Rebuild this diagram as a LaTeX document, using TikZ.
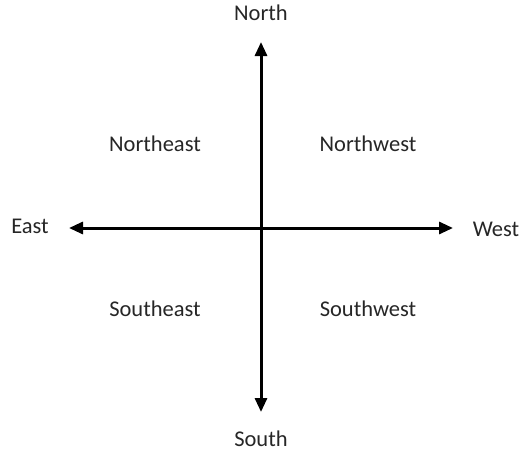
\documentclass[tikz,border=0pt]{standalone}
\usepackage{fontspec}
\setmainfont{Carlito}
\usetikzlibrary{arrows.meta}

\begin{document}
\begin{tikzpicture}[x=1pt,y=-1pt,font=\fontsize{22.5}{26}\selectfont]
  \tikzset{axis/.style={line width=3pt,{Triangle[width=12pt,length=14pt]}-{Triangle[width=12pt,length=14pt]}}}
  \useasboundingbox (0,0) rectangle (529,452);
  \coordinate (O) at (261,228);
  \coordinate (N) at (261,42);
  \coordinate (S) at (261,412);
  \coordinate (E) at (69,228);
  \coordinate (W) at (453,228);
  \draw[axis] (N) -- (S);
  \draw[axis] (E) -- (W);
  \node[anchor=base,inner sep=0pt,text=black!85] (north) at (261,21) {North};
  \node[anchor=base,inner sep=0pt,text=black!85] (south) at (261,446) {South};
  \node[anchor=base,inner sep=0pt,text=black!85] (east) at (30,233) {East};
  \node[anchor=base,inner sep=0pt,text=black!85] (west) at (496,236) {West};
  \node[anchor=base,inner sep=0pt,text=black!85] (ne) at (155,151) {Northeast};
  \node[anchor=base,inner sep=0pt,text=black!85] (nw) at (368,151) {Northwest};
  \node[anchor=base,inner sep=0pt,text=black!85] (se) at (155,316) {Southeast};
  \node[anchor=base,inner sep=0pt,text=black!85] (sw) at (368,316) {Southwest};
\end{tikzpicture}
\end{document}
